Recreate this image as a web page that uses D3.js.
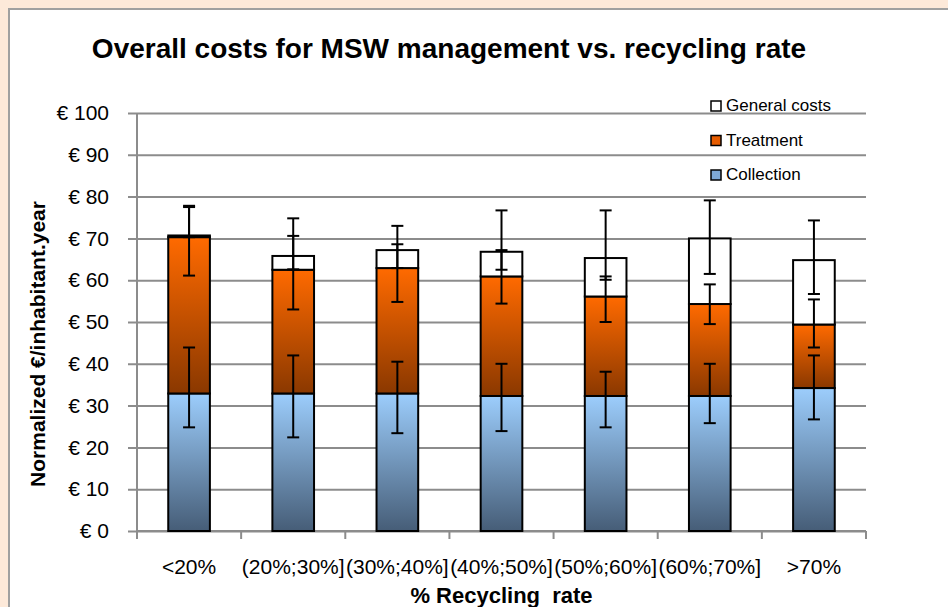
<!DOCTYPE html>
<html>
<head>
<meta charset="utf-8">
<script src="https://cdn.jsdelivr.net/npm/d3@7"></script>
<style>
  body { margin: 0; background: #fde9d9; }
  text { font-family: "Liberation Sans", Arial, sans-serif; fill: #000; }
</style>
</head>
<body>
<div id="chart"></div>
<script>
var categories = ['<20%', '(20%;30%]', '(30%;40%]', '(40%;50%]', '(50%;60%]', '(60%;70%]', '>70%']

var collection = [32.9, 32.9, 32.9, 32.3, 32.3, 32.3, 34.2]
var treatment = [37.4, 29.6, 30.0, 28.6, 23.8, 22.0, 15.2]
var general = [0.4, 3.3, 4.3, 5.9, 9.2, 15.7, 15.4]

var collectionLow = [24.8, 22.4, 23.4, 23.9, 24.8, 25.8, 26.7]
var collectionHigh = [43.9, 42.0, 40.5, 40.0, 38.1, 40.0, 42.0]
var treatmentLow = [61.1, 53.0, 54.8, 54.4, 50.0, 49.5, 43.9]
var treatmentHigh = [77.5, 74.8, 73.0, 67.2, 60.9, 59.0, 55.4]
var generalLow = [70.3, 62.6, 62.9, 62.5, 60.1, 61.5, 56.7]
var generalHigh = [77.8, 70.6, 68.6, 76.7, 76.7, 79.1, 74.3]

var yTicks = [0, 10, 20, 30, 40, 50, 60, 70, 80, 90, 100]

var seriesNames = ['General costs', 'Treatment', 'Collection']

var width = 948, height = 607
var margin = {left: 137, right: 82, top: 113, bottom: 76}

var svg = d3.select('#chart').append('svg')
  .attr('width', width).attr('height', height)

svg.append('rect').attr('x', 9).attr('y', 9).attr('width', width).attr('height', height)
  .attr('fill', '#fff').attr('stroke', '#a0a0a0').attr('stroke-width', 2)

var defs = svg.append('defs')
function grad(id, top, bottom){
  var g = defs.append('linearGradient').attr('id', id)
    .attr('x1', 0).attr('y1', 0).attr('x2', 0).attr('y2', 1)
  g.append('stop').attr('offset', '0%').attr('stop-color', top)
  g.append('stop').attr('offset', '100%').attr('stop-color', bottom)
}
grad('gCollection', '#9ccdfc', '#465d77')
grad('gTreatment', '#ff6a00', '#8a3800')

var x = d3.scaleBand().domain(categories)
  .range([margin.left, width - margin.right]).paddingInner(0.6).paddingOuter(0.3)
var xTick = d3.scaleBand().domain(categories).range([margin.left, width - margin.right])
var y = d3.scaleLinear().domain([0, 100]).range([height - margin.bottom, margin.top])

// gridlines + y axis
var yAxis = d3.axisLeft(y).tickValues(yTicks).tickFormat(d => '€ ' + d)
  .tickSize(-(width - margin.right - margin.left)).tickPadding(18)
var gy = svg.append('g').attr('transform', 'translate(' + margin.left + ',0)').call(yAxis)
gy.select('.domain').remove()
gy.selectAll('.tick line').attr('stroke', '#8c8c8c').attr('stroke-width', 2).attr('x1', -9)
gy.selectAll('.tick text').attr('font-size', 21).attr('x', -28)
svg.append('line').attr('x1', margin.left).attr('x2', margin.left)
  .attr('y1', margin.top).attr('y2', y(0) + 8).attr('stroke', '#8c8c8c').attr('stroke-width', 2)

// x axis
var gx = svg.append('g').attr('transform', 'translate(0,' + y(0) + ')')
gx.append('line').attr('x1', margin.left).attr('x2', width - margin.right)
  .attr('stroke', '#8c8c8c').attr('stroke-width', 2)
var tickX = categories.map(d => xTick(d)).concat([width - margin.right])
gx.selectAll('line.tk').data(tickX).enter().append('line')
  .attr('x1', d => d).attr('x2', d => d)
  .attr('y1', 0).attr('y2', 8).attr('stroke', '#8c8c8c').attr('stroke-width', 2)
gx.selectAll('text').data(categories).enter().append('text')
  .attr('x', d => xTick(d) + xTick.bandwidth() / 2).attr('y', 43)
  .attr('text-anchor', 'middle').attr('font-size', 21).text(d => d)

// stacked bars
var stacks = categories.map(function(c, i){
  return [
    {key: 'Collection', y0: 0, y1: collection[i], lo: collectionLow[i], hi: collectionHigh[i], fill: 'url(#gCollection)'},
    {key: 'Treatment', y0: collection[i], y1: collection[i] + treatment[i], lo: treatmentLow[i], hi: treatmentHigh[i], fill: 'url(#gTreatment)'},
    {key: 'General costs', y0: collection[i] + treatment[i], y1: collection[i] + treatment[i] + general[i], lo: generalLow[i], hi: generalHigh[i], fill: '#fff'}
  ]
})

var barG = svg.selectAll('g.bar').data(categories).enter().append('g')
barG.selectAll('rect').data((c, i) => stacks[i]).enter().append('rect')
  .attr('x', function(){ return x(d3.select(this.parentNode).datum()) })
  .attr('width', x.bandwidth())
  .attr('y', d => y(d.y1)).attr('height', d => y(d.y0) - y(d.y1))
  .attr('fill', d => d.fill).attr('stroke', '#000').attr('stroke-width', 2)

// error bars
var errG = svg.selectAll('g.err').data(categories).enter().append('g')
errG.each(function(c, i){
  var cx = x(c) + x.bandwidth() / 2
  var g = d3.select(this)
  stacks[i].forEach(function(s){
    g.append('line').attr('x1', cx).attr('x2', cx).attr('y1', y(s.lo)).attr('y2', y(s.hi))
      .attr('stroke', '#000').attr('stroke-width', 2)
    ;[s.lo, s.hi].forEach(function(v){
      g.append('line').attr('x1', cx - 6).attr('x2', cx + 6).attr('y1', y(v)).attr('y2', y(v))
        .attr('stroke', '#000').attr('stroke-width', 2)
    })
  })
})

// legend
var legendFill = {'General costs': '#fff', 'Treatment': '#e65c00', 'Collection': '#7fa9d6'}
var lg = svg.selectAll('g.legend').data(seriesNames).enter().append('g')
  .attr('transform', (d, i) => 'translate(711,' + (101 + i * 34.5) + ')')
lg.append('rect').attr('width', 10).attr('height', 10)
  .attr('fill', d => legendFill[d]).attr('stroke', '#000').attr('stroke-width', 1.5)
lg.append('text').attr('x', 15).attr('y', 10).attr('font-size', 17).text(d => d)

// titles
svg.append('text').attr('x', 449).attr('y', 58).attr('text-anchor', 'middle')
  .attr('font-size', 28).attr('font-weight', 'bold')
  .text('Overall costs for MSW management vs. recycling rate')

svg.append('text').attr('transform', 'translate(45,' + 344 + ') rotate(-90)')
  .attr('text-anchor', 'middle').attr('font-size', 21).attr('font-weight', 'bold')
  .text('Normalized €/inhabitant.year')

svg.append('text').attr('x', (margin.left + width - margin.right) / 2).attr('y', 603)
  .attr('text-anchor', 'middle').attr('font-size', 22).attr('font-weight', 'bold')
  .style('white-space', 'pre')
  .text('% Recycling  rate')
</script>
</body>
</html>
